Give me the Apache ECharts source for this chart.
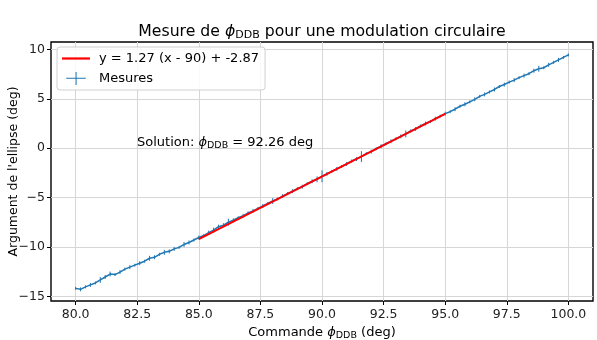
<!DOCTYPE html>
<html>
<head>
<meta charset="utf-8">
<script src="https://cdn.jsdelivr.net/npm/echarts@6/dist/echarts.min.js"></script>
<style>
  html, body { margin: 0; padding: 0; background: #fff; }
  #chart { width: 597px; height: 340px; }
</style>
</head>
<body>
<div id="chart"></div>
<script>
// commande (deg)
var commande = [80.0, 80.2, 80.4, 80.6, 80.8, 81.0, 81.2, 81.4, 81.6, 81.8,
  82.0, 82.2, 82.4, 82.6, 82.8, 83.0, 83.2, 83.4, 83.6, 83.8,
  84.0, 84.2, 84.4, 84.6, 84.8, 85.0, 85.2, 85.4, 85.6, 85.8,
  86.0, 86.2, 86.4, 86.6, 86.8, 87.0, 87.2, 87.4, 87.6, 87.8,
  88.0, 88.2, 88.4, 88.6, 88.8, 89.0, 89.2, 89.4, 89.6, 89.8,
  90.0, 90.2, 90.4, 90.6, 90.8, 91.0, 91.2, 91.4, 91.6, 91.8,
  92.0, 92.2, 92.4, 92.6, 92.8, 93.0, 93.2, 93.4, 93.6, 93.8,
  94.0, 94.2, 94.4, 94.6, 94.8, 95.0, 95.2, 95.4, 95.6, 95.8,
  96.0, 96.2, 96.4, 96.6, 96.8, 97.0, 97.2, 97.4, 97.6, 97.8,
  98.0, 98.2, 98.4, 98.6, 98.8, 99.0, 99.2, 99.4, 99.6, 99.8,
  100.0];
// argument de l'ellipse (deg)
var argument = [-14.20, -14.30, -14.05, -13.85, -13.65, -13.35, -13.05, -12.75, -12.80, -12.55,
  -12.25, -12.05, -11.85, -11.65, -11.45, -11.15, -11.05, -10.75, -10.55, -10.45,
  -10.20, -10.05, -9.75, -9.55, -9.30, -9.05, -8.85, -8.55, -8.30, -7.95,
  -7.80, -7.50, -7.30, -7.05, -6.85, -6.55, -6.35, -6.10, -5.85, -5.60,
  -5.35, -5.15, -4.85, -4.60, -4.35, -4.10, -3.90, -3.60, -3.35, -3.15,
  -2.85, -2.60, -2.35, -2.10, -1.85, -1.60, -1.30, -1.10, -0.85, -0.55,
  -0.35, -0.05, 0.20, 0.45, 0.70, 0.95, 1.20, 1.45, 1.75, 1.95,
  2.25, 2.50, 2.70, 3.00, 3.25, 3.50, 3.70, 3.95, 4.25, 4.45,
  4.70, 4.95, 5.25, 5.45, 5.70, 5.95, 6.25, 6.45, 6.70, 6.90,
  7.15, 7.35, 7.55, 7.85, 8.05, 8.15, 8.45, 8.70, 8.95, 9.20,
  9.45];
// erreur (deg)
var erreur = [0.15, 0.20, 0.15, 0.20, 0.15, 0.30, 0.20, 0.25, 0.15, 0.20,
  0.15, 0.20, 0.15, 0.20, 0.15, 0.25, 0.20, 0.15, 0.25, 0.20,
  0.20, 0.15, 0.25, 0.20, 0.15, 0.20, 0.15, 0.20, 0.25, 0.20,
  0.20, 0.35, 0.20, 0.15, 0.20, 0.15, 0.20, 0.15, 0.20, 0.15,
  0.30, 0.15, 0.20, 0.15, 0.20, 0.15, 0.20, 0.15, 0.20, 0.30,
  0.60, 0.20, 0.15, 0.20, 0.15, 0.20, 0.15, 0.20, 0.55, 0.15,
  0.20, 0.15, 0.20, 0.15, 0.20, 0.15, 0.20, 0.35, 0.15, 0.20,
  0.15, 0.20, 0.15, 0.20, 0.15, 0.20, 0.15, 0.20, 0.15, 0.20,
  0.15, 0.20, 0.15, 0.20, 0.15, 0.20, 0.15, 0.20, 0.15, 0.20,
  0.15, 0.20, 0.15, 0.20, 0.30, 0.15, 0.20, 0.15, 0.20, 0.15,
  0.15];
// ajustement lineaire
var fitX = [85, 95];
var fitY = [-9.22, 3.48];
var xTicks = [80, 82.5, 85, 87.5, 90, 92.5, 95, 97.5, 100];
var yTicks = [-15, -10, -5, 0, 5, 10];

var fitName = 'y = 1.27 (x - 90) + -2.87';
var font = 'DejaVu Sans';

var mesures = commande.map(function (x, i) { return [x, argument[i]]; });
var barres = commande.map(function (x, i) { return [x, argument[i], erreur[i]]; });
var fit = fitX.map(function (x, i) { return [x, fitY[i]]; });

var myChart = echarts.init(document.getElementById('chart'));
myChart.setOption({
  animation: false,
  textStyle: { fontFamily: font },
  title: {
    text: 'Mesure de {i|ϕ}{s|DDB} pour une modulation circulaire',
    left: 317, textAlign: 'center', top: 17,
    textStyle: {
      fontFamily: font, fontSize: 15.7, fontWeight: 'normal', color: '#000',
      rich: {
        i: { fontFamily: font, fontSize: 15.7, fontStyle: 'italic', color: '#000' },
        s: { fontFamily: font, fontSize: 11, color: '#000', padding: [8, 0, 0, 0] }
      }
    }
  },
  legend: {
    orient: 'vertical', left: 57, top: 47,
    backgroundColor: 'rgba(255,255,255,0.85)',
    borderColor: '#d0d0d0', borderWidth: 1, borderRadius: 3,
    padding: [5, 6, 5, 5], itemGap: 7,
    itemWidth: 28, itemHeight: 13,
    textStyle: { fontFamily: font, fontSize: 13, color: '#000', padding: [0, 0, 0, 4] },
    data: [
      { name: fitName, icon: 'path://M0,0h30v2.4h-30z' },
      { name: 'Mesures', icon: 'path://M0,9h30v1.4h-30zM14.3,0h1.6v20h-1.6z' }
    ]
  },
  grid: {
    left: 51, right: 4, top: 42, bottom: 39,
    outerBoundsMode: 'none',
    show: true, borderColor: '#000', borderWidth: 1.4, backgroundColor: '#fff'
  },
  xAxis: {
    type: 'value', min: 79, max: 101,
    name: 'Commande {i|ϕ}{s|DDB} (deg)', nameLocation: 'middle', nameGap: 23,
    nameTextStyle: {
      fontFamily: font, fontSize: 13, color: '#000',
      rich: {
        i: { fontFamily: font, fontSize: 13, fontStyle: 'italic', color: '#000' },
        s: { fontFamily: font, fontSize: 9.5, color: '#000', padding: [7, 0, 0, 0] }
      }
    },
    axisLine: { show: false, onZero: false },
    axisTick: { show: true, customValues: xTicks, length: 4, lineStyle: { color: '#000' } },
    axisLabel: {
      customValues: xTicks, margin: 7, fontSize: 12.5, color: '#222',
      formatter: function (v) { return v.toFixed(1); }
    },
    splitLine: { show: true, customValues: xTicks, lineStyle: { color: '#d6d6d6', width: 1 } }
  },
  yAxis: {
    type: 'value', min: -15.48, max: 10.76,
    name: "Argument de l'ellipse (deg)", nameLocation: 'middle', nameGap: 31,
    nameMoveOverlap: false,
    nameTextStyle: { fontFamily: font, fontSize: 12.5, color: '#000' },
    axisLine: { show: false, onZero: false },
    axisTick: { show: true, customValues: yTicks, length: 4, lineStyle: { color: '#000' } },
    axisLabel: {
      customValues: yTicks, margin: 6, fontSize: 12.5, color: '#222',
      formatter: function (v) { return String(v).replace('-', '\u2212'); }
    },
    splitLine: { show: true, customValues: yTicks, lineStyle: { color: '#d6d6d6', width: 1 } }
  },
  graphic: [{
    type: 'text', left: 137, top: 136, z: 10,
    style: {
      text: 'Solution: {i|ϕ}{s|DDB} = 92.26 deg',
      font: '13px "DejaVu Sans"', fill: '#000',
      rich: {
        i: { fontFamily: font, fontSize: 13, fontStyle: 'italic', fill: '#000' },
        s: { fontFamily: font, fontSize: 9.5, fill: '#000', padding: [7, 0, 0, 0] }
      }
    }
  }],
  series: [
    {
      name: 'Mesures', type: 'line', data: mesures, symbol: 'none',
      color: '#1f77b4', lineStyle: { color: '#1f77b4', width: 1.5 }, z: 3
    },
    {
      name: 'Mesures', type: 'custom', data: barres, z: 3,
      color: '#1f77b4',
      encode: { x: 0, y: 1 },
      renderItem: function (params, api) {
        var x = api.value(0), y = api.value(1), e = api.value(2);
        var p1 = api.coord([x, y - e]);
        var p2 = api.coord([x, y + e]);
        return {
          type: 'line',
          shape: { x1: p1[0], y1: p1[1], x2: p2[0], y2: p2[1] },
          style: { stroke: '#1f77b4', lineWidth: 1 }
        };
      }
    },
    {
      name: fitName, type: 'line', data: fit, symbol: 'none',
      color: '#ff0000', lineStyle: { color: '#ff0000', width: 2 }, z: 5
    }
  ]
});
</script>
</body>
</html>
